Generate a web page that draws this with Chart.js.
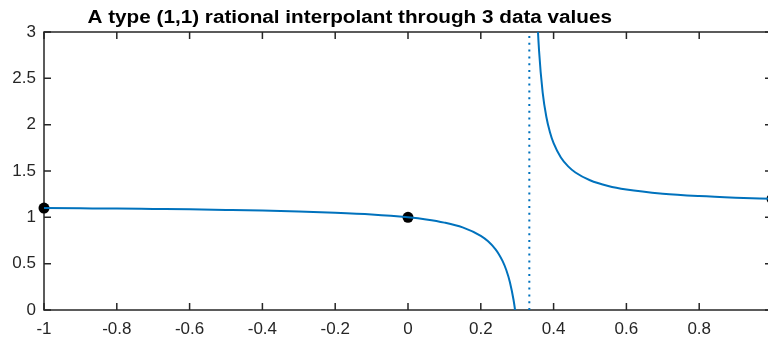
<!DOCTYPE html>
<html>
<head>
<meta charset="utf-8">
<script src="https://cdn.jsdelivr.net/npm/chart.js@4.4.1/dist/chart.umd.min.js"></script>
<style>
  html, body { margin: 0; padding: 0; background: #fff; overflow: hidden; }
  #wrap { width: 780px; height: 337px; }
</style>
</head>
<body>
<div id="wrap"><canvas id="grafico" width="780" height="337"></canvas></div>
<script>
const titulo = 'A type (1,1) rational interpolant through 3 data values';

const xTicks = [-1, -0.8, -0.6, -0.4, -0.2, 0, 0.2, 0.4, 0.6, 0.8, 1];
const yTicks = [0, 0.5, 1, 1.5, 2, 2.5, 3];

// ramo esquerdo da curva (antes do polo)
const ramoEsqX = [-1, -0.9, -0.8, -0.7, -0.6, -0.5, -0.4, -0.3, -0.2, -0.1, 0, 0.05, 0.1, 0.15, 0.2, 0.22, 0.24, 0.25, 0.26, 0.27, 0.28, 0.29, 0.295, 0.3];
const ramoEsqY = [1.1, 1.097, 1.094, 1.09, 1.086, 1.08, 1.073, 1.063, 1.05, 1.031, 1, 0.977, 0.943, 0.891, 0.8, 0.741, 0.657, 0.6, 0.527, 0.432, 0.3, 0.108, -0.026, -0.2];

// ramo direito da curva (depois do polo)
const ramoDirX = [0.35, 0.355, 0.36, 0.37, 0.38, 0.39, 0.4, 0.42, 0.44, 0.46, 0.5, 0.55, 0.6, 0.7, 0.8, 0.9, 1];
const ramoDirY = [3.8, 3.185, 2.8, 2.346, 2.086, 1.918, 1.8, 1.646, 1.55, 1.484, 1.4, 1.338, 1.3, 1.255, 1.229, 1.212, 1.2];

// assintota vertical
const poloX = [0.3333, 0.3333];
const poloY = [0, 3];

// valores interpolados
const nosX = [-1, 0, 1];
const nosY = [1.1, 1, 1.2];

const azul = '#0072BD';
const cinza = '#262626';
const fonte = '"Liberation Sans", Arial, Helvetica, sans-serif';

const pares = (xs, ys) => xs.map((v, i) => ({ x: v, y: ys[i] }));

const moldura = {
  id: 'moldura',
  beforeDatasetsDraw(chart) {
    const { ctx, chartArea: a, scales: { x, y } } = chart;
    const tam = 7;
    ctx.save();
    ctx.strokeStyle = cinza;
    ctx.lineWidth = 1.5;
    ctx.strokeRect(a.left, a.top, a.right - a.left, a.bottom - a.top);
    ctx.beginPath();
    xTicks.forEach(v => {
      const px = x.getPixelForValue(v);
      ctx.moveTo(px, a.bottom); ctx.lineTo(px, a.bottom - tam);
      ctx.moveTo(px, a.top); ctx.lineTo(px, a.top + tam);
    });
    yTicks.forEach(v => {
      const py = y.getPixelForValue(v);
      ctx.moveTo(a.left, py); ctx.lineTo(a.left + tam, py);
      ctx.moveTo(a.right, py); ctx.lineTo(a.right - tam, py);
    });
    ctx.stroke();
    ctx.restore();
  },
  afterDraw(chart) {
    const { ctx, scales: { x } } = chart;
    // titulo um pouco alargado na horizontal
    ctx.save();
    ctx.fillStyle = '#000';
    ctx.font = 'bold 18px ' + fonte;
    ctx.textAlign = 'center';
    ctx.textBaseline = 'alphabetic';
    ctx.translate(x.getPixelForValue(-0.16), 23);
    ctx.scale(1.15, 1);
    ctx.fillText(titulo, 0, 0);
    ctx.restore();
  }
};

new Chart(document.getElementById('grafico'), {
  type: 'scatter',
  data: {
    datasets: [
      {
        data: pares(ramoEsqX, ramoEsqY),
        showLine: true,
        borderColor: azul,
        borderWidth: 2,
        pointRadius: 0,
        cubicInterpolationMode: 'monotone'
      },
      {
        data: pares(ramoDirX, ramoDirY),
        showLine: true,
        borderColor: azul,
        borderWidth: 2,
        pointRadius: 0,
        cubicInterpolationMode: 'monotone'
      },
      {
        data: pares(poloX, poloY),
        showLine: true,
        borderColor: azul,
        borderWidth: 2,
        borderDash: [2, 4.8],
        pointRadius: 0
      },
      {
        data: pares(nosX, nosY),
        showLine: false,
        pointRadius: 5.5,
        pointBackgroundColor: '#000',
        pointBorderColor: '#000',
        pointBorderWidth: 0,
        clip: false
      }
    ]
  },
  options: {
    responsive: false,
    animation: false,
    devicePixelRatio: 1,
    layout: { padding: { left: 0, right: 8, top: 32, bottom: 0 } },
    plugins: {
      legend: { display: false },
      tooltip: { enabled: false }
    },
    scales: {
      x: {
        type: 'linear',
        min: -1,
        max: 1,
        grid: { display: false, drawTicks: false },
        border: { display: false },
        afterBuildTicks: s => { s.ticks = xTicks.map(v => ({ value: v })); },
        afterFit: s => { s.height = 27; s.paddingLeft = 0; s.paddingRight = 0; },
        ticks: {
          padding: 9,
          color: cinza,
          font: { family: fonte, size: 17 },
          callback: v => String(v)
        }
      },
      y: {
        type: 'linear',
        min: 0,
        max: 3,
        grid: { display: false, drawTicks: false },
        border: { display: false },
        afterBuildTicks: s => { s.ticks = yTicks.map(v => ({ value: v })); },
        afterFit: s => { s.width = 44; s.paddingTop = 0; s.paddingBottom = 0; },
        ticks: {
          padding: 8,
          color: cinza,
          font: { family: fonte, size: 17 },
          callback: v => String(v)
        }
      }
    }
  },
  plugins: [moldura]
});
</script>
</body>
</html>
